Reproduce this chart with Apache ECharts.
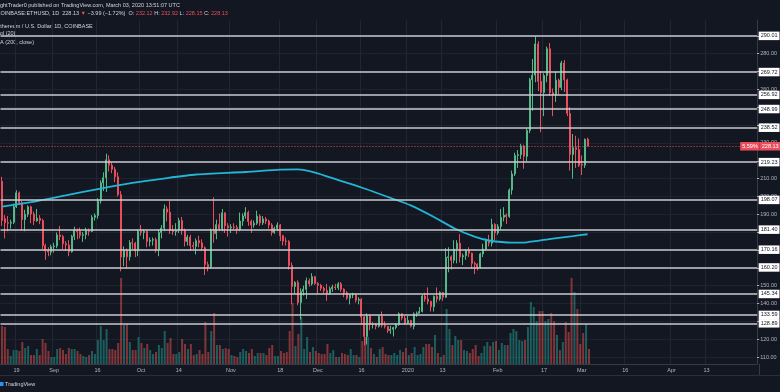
<!DOCTYPE html>
<html><head><meta charset="utf-8">
<script src="https://cdn.jsdelivr.net/npm/echarts@6/dist/echarts.min.js"></script>
<style>html,body{margin:0;padding:0;background:#131722;}#c{width:780px;height:392px;}</style>
</head><body><div id="c"></div>
<script>
// ---- data ----
const firstDay = '2019-08-14';
const lastAxisDay = '2020-04-30';
const opens = [
208.5,187.5,185.3,185.0,185.5,194.2,202.0,196.5,187.0,190.0,
194.2,190.2,186.3,187.8,186.5,172.5,169.5,168.8,171.8,172.2,
178.4,177.5,173.5,172.8,169.0,177.6,181.0,180.4,178.2,178.6,
180.8,180.4,188.3,189.3,197.5,207.6,210.5,220.5,217.5,215.2,
211.0,201.0,166.0,169.8,166.2,174.0,173.8,169.5,180.5,179.8,
180.4,174.8,175.5,175.8,170.2,179.8,182.2,193.0,191.2,181.0,
180.3,181.0,186.5,180.8,174.8,177.2,172.5,172.0,175.2,174.0,
171.2,161.8,160.5,180.8,179.2,184.2,181.8,190.8,183.5,182.4,
182.9,182.6,181.4,186.2,189.0,191.0,186.0,184.0,185.0,189.0,
185.2,187.4,186.2,184.0,179.8,182.0,184.0,178.0,175.0,174.8,
161.3,149.5,151.8,140.5,146.8,148.0,152.8,151.0,155.0,151.2,
150.2,148.5,147.3,145.8,148.3,149.2,148.8,151.0,148.0,146.0,
143.0,144.8,145.0,141.8,142.3,132.5,121.5,133.0,128.2,128.5,
127.2,132.8,127.8,127.2,124.8,125.5,126.5,128.2,134.2,131.8,
129.0,130.5,127.2,134.2,134.5,135.5,144.2,142.5,141.2,138.2,
144.0,142.5,146.2,143.5,165.8,166.2,164.2,170.5,173.8,166.2,
166.8,169.5,168.2,162.5,162.0,160.3,167.8,170.5,175.4,173.8,
184.3,179.6,183.2,188.3,189.5,188.8,203.6,212.6,223.0,223.4,
228.3,222.5,237.0,265.5,268.0,285.5,264.5,258.3,267.8,282.8,
258.2,256.8,265.2,261.0,274.8,265.3,246.5,223.5,227.3,226.3,
218.0,217.5,232.12];
const closes = [
186.5,185.3,185.0,185.5,194.2,202.0,196.5,187.0,190.0,194.2,
190.2,186.3,187.8,186.5,172.5,169.5,168.8,171.8,172.2,178.4,
177.5,173.5,172.8,169.0,177.6,181.0,180.4,178.2,178.6,180.8,
180.4,188.3,189.3,197.5,207.6,210.5,220.5,217.5,215.2,211.0,
201.0,166.0,169.8,166.2,174.0,173.8,169.5,180.5,179.8,180.4,
174.8,175.5,175.8,170.2,179.8,182.2,193.0,191.2,181.0,180.3,
181.0,186.5,180.8,174.8,177.2,172.5,172.0,175.2,174.0,171.2,
161.8,160.5,180.8,179.2,184.2,181.8,190.8,183.5,182.4,182.9,
182.6,181.4,186.2,189.0,191.0,186.0,184.0,185.0,189.0,185.2,
187.4,186.2,184.0,179.8,182.0,184.0,178.0,175.0,174.8,161.3,
149.5,151.8,140.5,146.8,148.0,152.8,151.0,155.0,151.2,150.2,
148.5,147.3,145.8,148.3,149.2,148.8,151.0,148.0,146.0,143.0,
144.8,145.0,141.8,142.3,132.5,121.5,133.0,128.2,128.5,127.2,
132.8,127.8,127.2,124.8,125.5,126.5,128.2,134.2,131.8,129.0,
130.5,127.2,134.2,134.5,135.5,144.2,142.5,141.2,138.2,144.0,
142.5,146.2,143.5,165.8,166.2,164.2,170.5,173.8,166.2,166.8,
169.5,168.2,162.5,162.0,160.3,167.8,170.5,175.4,173.8,184.3,
179.6,183.2,188.3,189.5,188.8,203.6,212.6,223.0,223.4,228.3,
222.5,237.0,265.5,268.0,285.5,264.5,258.3,267.8,282.8,258.2,
256.8,265.2,261.0,274.8,265.3,246.5,223.5,227.3,226.3,217.3,
217.5,232.0,228.13];
const highs = [
211.0,189.5,189.0,187.0,196.0,203.5,202.8,197.5,192.5,195.0,
194.8,191.5,193.0,189.5,187.5,173.5,171.5,173.0,174.0,179.8,
183.5,178.5,175.0,175.5,178.5,183.0,182.0,182.5,180.0,182.5,
182.0,189.5,190.5,199.0,209.0,213.5,224.0,223.0,219.0,216.5,
213.5,203.0,172.0,170.8,175.5,176.5,174.5,181.5,184.0,181.5,
181.0,177.0,177.0,177.0,181.5,184.0,195.5,194.5,197.5,184.0,
185.0,188.0,188.5,182.0,178.5,178.5,174.5,176.5,178.0,176.0,
172.0,163.5,182.0,199.5,187.0,190.5,193.0,191.0,185.0,184.5,
185.0,184.0,191.0,190.5,194.0,192.0,187.0,186.5,192.0,190.0,
189.0,188.5,187.0,185.0,183.0,185.5,184.5,178.5,177.0,175.5,
163.0,152.5,153.0,148.5,150.0,154.5,154.0,157.0,155.5,152.0,
151.0,149.5,151.0,149.5,150.5,151.0,152.0,152.0,148.5,147.0,
145.5,146.0,145.5,143.5,143.0,133.0,134.5,133.5,129.5,129.0,
133.5,135.5,130.0,127.5,127.5,127.0,129.0,135.0,134.5,133.0,
133.0,130.8,135.0,135.5,138.0,144.8,146.0,149.0,141.5,144.5,
149.0,146.8,146.5,171.0,171.5,167.0,175.5,175.5,179.0,168.0,
170.5,171.5,168.5,163.5,162.5,168.5,173.5,176.5,178.5,187.5,
185.0,184.5,193.0,194.0,190.5,204.5,214.5,224.5,226.0,229.5,
229.0,238.0,266.5,277.0,289.5,287.0,270.0,269.0,284.0,286.0,
260.5,270.0,266.0,276.0,276.5,266.0,250.0,235.0,234.0,232.5,
223.0,232.5,232.92];
const lows = [
183.5,176.5,180.5,182.0,184.5,193.5,195.5,181.0,180.5,188.5,
185.0,184.0,185.8,184.5,170.5,164.5,166.5,167.0,168.5,171.0,
175.5,170.5,169.5,166.5,168.5,175.5,176.0,176.5,174.5,176.0,
178.0,180.0,186.5,187.5,196.0,203.0,202.5,214.0,213.0,208.0,
200.0,158.0,161.0,159.5,164.0,170.5,166.0,166.5,178.0,176.0,
171.5,172.0,172.5,168.5,166.5,176.5,180.5,186.0,179.0,178.5,
178.0,179.5,178.5,172.0,172.5,169.5,170.5,167.5,171.5,169.5,
156.0,158.0,159.5,174.0,176.0,180.5,180.5,179.5,177.5,179.5,
181.5,179.0,180.5,183.5,187.5,183.5,179.5,182.5,184.0,183.5,
184.0,184.5,182.0,178.0,179.0,180.5,175.0,172.5,172.5,159.0,
139.5,145.5,139.0,131.0,144.5,142.5,149.5,150.0,150.5,145.5,
147.0,145.5,141.5,145.0,146.5,147.5,147.5,146.5,143.5,142.0,
139.5,143.0,140.5,139.5,128.0,116.5,117.0,125.0,126.0,125.5,
126.5,126.5,126.0,123.5,123.0,121.5,125.5,127.5,130.5,128.0,
128.5,126.5,125.5,132.5,134.5,135.0,141.0,139.5,135.5,135.5,
140.5,141.5,141.5,143.0,157.5,159.0,162.5,162.5,163.0,161.5,
164.5,166.0,159.5,156.5,158.5,159.5,166.0,169.5,172.0,172.0,
175.5,178.5,181.5,186.0,184.5,188.0,201.0,211.5,216.0,221.0,
215.5,219.5,235.5,248.0,264.0,259.0,236.0,245.0,264.0,256.5,
245.0,253.0,257.0,259.5,258.5,245.0,214.5,210.0,216.0,216.5,
212.0,216.0,228.13];
const volumes = [
494,481,195,104,182,182,169,286,208,234,
117,117,195,117,325,273,169,91,91,195,
208,182,130,208,195,195,169,130,104,91,
117,169,130,312,494,312,455,195,195,182,
273,1118,507,520,286,182,182,351,273,208,
260,182,130,156,247,208,429,273,338,130,
130,156,325,260,195,260,117,130,182,130,
546,156,429,663,247,247,195,208,195,117,
104,91,156,195,169,143,195,104,143,143,
143,117,208,247,104,104,169,143,156,429,
793,234,390,611,195,351,156,221,169,143,
130,130,260,143,182,91,91,143,130,117,
195,117,117,91,299,351,351,208,130,91,
195,221,130,117,117,143,117,182,156,208,
117,143,221,117,130,221,260,260,221,377,
143,91,117,715,455,247,364,312,312,182,
169,143,195,247,104,143,234,286,234,286,
299,182,273,247,247,403,455,429,312,299,
312,481,806,741,559,689,689,559,585,663,
559,377,182,286,546,416,1118,936,715,260,
403,520,195];
const maDates = ['2019-08-14','2019-08-24','2019-09-05','2019-09-17','2019-09-28','2019-10-08','2019-10-20','2019-11-06','2019-11-18','2019-11-24','2019-11-30','2019-12-08','2019-12-16','2019-12-26','2020-01-02','2020-01-10','2020-01-17','2020-01-24','2020-01-29','2020-02-06','2020-02-11','2020-02-20','2020-02-27','2020-03-03'];
const maValues = [194.3,196.8,200.6,204.4,207.6,209.9,212.3,213.7,215.0,215.2,213.4,209.2,205.0,199.2,195.0,188.5,182.2,177.5,175.3,174.1,174.3,176.4,177.8,178.8];
const levels = [290.01,269.72,256.92,248.99,238.52,219.23,198.07,181.40,170.16,160.20,145.34,133.59,128.89];
const lastPrice = 228.13;
const lastPct = '5.59%';
const priceTicks = [110,120,130,140,150,160,170,180,190,200,210,220,230,240,250,260,270,280,290];
const timeTickDates = ['2019-08-19','2019-09-01','2019-09-16','2019-10-01','2019-10-14','2019-11-01','2019-11-18','2019-12-01','2019-12-16','2020-01-01','2020-01-13','2020-02-01','2020-02-17','2020-03-01','2020-03-16','2020-04-01','2020-04-13'];
const timeTickLabels = ['19','Sep','16','Oct','14','Nov','18','Dec','16','2020','13','Feb','17','Mar','16','Apr','13'];
const priceMin = 106.08, priceMax = 298.9;
const volMax = 2236;

// ---- build ----
const days = [];
for (let t = Date.parse(firstDay + 'T00:00:00Z'); t <= Date.parse(lastAxisDay + 'T00:00:00Z'); t += 86400000) {
  days.push(new Date(t).toISOString().slice(0, 10));
}
const tickMap = {};
timeTickDates.forEach((d, i) => tickMap[d] = timeTickLabels[i]);
const isTick = (idx, val) => tickMap[val] !== undefined;

const UP = '#53b987', DOWN = '#eb4d5c';
const candleData = opens.map((o, i) => [o, closes[i], lows[i], highs[i]]);
const volData = volumes.map((v, i) => ({
  value: v,
  itemStyle: { color: closes[i] >= opens[i] ? 'rgba(38,166,154,0.5)' : 'rgba(239,83,80,0.5)' }
}));
const maData = maDates.map((d, i) => [d, maValues[i]]);
const FONT = 'Liberation Sans';

const levelLines = levels.map(v => ({
  yAxis: v,
  lineStyle: { color: '#c9cbd1', width: 1.6, type: 'solid' },
  label: {
    show: true, position: 'end', distance: 1.5, formatter: v.toFixed(2),
    backgroundColor: '#ffffff', color: '#131722', fontSize: 5.5, fontFamily: FONT,
    padding: [1.5, 2, 1, 2]
  }
}));
levelLines.push({
  yAxis: lastPrice,
  lineStyle: { color: '#eb4d5c', width: 1, type: [1, 2] },
  label: {
    show: true, position: 'end', distance: -17,
    formatter: '{p|' + lastPct + '}{v|' + lastPrice.toFixed(2) + '}',
    rich: {
      p: { backgroundColor: '#eb4d5c', color: '#ffffff', fontSize: 5.5, fontFamily: FONT, padding: [1.5, 2, 1, 2] },
      v: { backgroundColor: '#eb4d5c', color: '#ffffff', fontSize: 5.5, fontFamily: FONT, padding: [1.5, 2, 1, 2] }
    }
  }
});

const chart = echarts.init(document.getElementById('c'), null, { renderer: 'canvas' });
chart.setOption({
  backgroundColor: '#131722',
  animation: false,
  grid: [
    { left: 0.5, right: 21, top: 20, bottom: 28 },
    { left: 0.5, right: 21, top: 192, bottom: 28 }
  ],
  xAxis: [
    {
      type: 'category', gridIndex: 0, data: days, boundaryGap: true,
      axisLine: { show: true, lineStyle: { color: '#363a45' } },
      axisTick: { show: false },
      axisLabel: {
        interval: isTick, formatter: v => tickMap[v] || '', color: '#b2b5be',
        fontSize: 5.5, fontFamily: FONT, margin: 3
      },
      splitLine: { show: true, interval: isTick, lineStyle: { color: '#222632', width: 1 } }
    },
    { type: 'category', gridIndex: 1, data: days, boundaryGap: true, show: false }
  ],
  yAxis: [
    {
      type: 'value', gridIndex: 0, position: 'right', min: priceMin, max: priceMax,
      axisLine: { show: true, lineStyle: { color: '#363a45' } },
      axisTick: { show: true, customValues: priceTicks, length: 2, lineStyle: { color: '#b2b5be' } },
      axisLabel: { customValues: priceTicks, formatter: v => v.toFixed(2), color: '#b2b5be', fontSize: 5.5, fontFamily: FONT, margin: 3 },
      splitLine: { show: true, lineStyle: { color: '#1f2330' } }
    },
    { type: 'value', gridIndex: 1, min: 0, max: volMax, show: false, splitLine: { show: false } }
  ],
  series: [
    {
      type: 'bar', xAxisIndex: 1, yAxisIndex: 1, data: volData, barWidth: 2, z: 1, silent: true
    },
    {
      type: 'candlestick', xAxisIndex: 0, yAxisIndex: 0, data: candleData, barWidth: 1.5, z: 3,
      itemStyle: { color: UP, color0: DOWN, borderColor: UP, borderColor0: DOWN, borderWidth: 1 },
      markLine: { symbol: ['none', 'none'], silent: true, animation: false, precision: 2, data: levelLines }
    },
    {
      type: 'line', xAxisIndex: 0, yAxisIndex: 0, data: maData, showSymbol: false, smooth: 0.25, z: 4,
      lineStyle: { color: '#22b5d6', width: 1.8 }
    }
  ],
  graphic: [
    { type: 'text', x: 0, y: 5, style: { text: 'ghtTrader0 published on TradingView.com, March 03, 2020 13:51:07 UTC', fill: '#d1d4dc', font: '5.5px "Liberation Sans"', verticalAlign: 'middle' } },
    { type: 'text', x: -3.5, y: 13.5, style: {
      text: '{w|COINBASE:ETHUSD, 1D  228.13 }{r|▼}{w| −3.99 (−1.72%)  O: }{r|232.12}{w| H: }{r|232.92}{w| L: }{r|228.15}{w| C: }{r|228.13}',
      rich: { w: { fill: '#d1d4dc', font: '5.5px "Liberation Sans"' }, r: { fill: '#eb4d5c', font: '5.5px "Liberation Sans"' } },
      font: '5.5px "Liberation Sans"', verticalAlign: 'middle' } },
    { type: 'text', x: -3.5, y: 26, style: { text: 'Ethereum / U.S. Dollar, 1D, COINBASE', fill: '#d1d4dc', font: '5.5px "Liberation Sans"', verticalAlign: 'middle' } },
    { type: 'text', x: -3.5, y: 33.5, style: { text: 'Vol (20)', fill: '#d1d4dc', font: '5.5px "Liberation Sans"', verticalAlign: 'middle' } },
    { type: 'text', x: -4.5, y: 42, style: { text: 'MA (200, close)', fill: '#d1d4dc', font: '5.5px "Liberation Sans"', verticalAlign: 'middle' } },
    { type: 'line', shape: { x1: 0, y1: 375.5, x2: 780, y2: 375.5 }, style: { stroke: '#2a2e39', lineWidth: 1 } },
    { type: 'line', shape: { x1: 759.5, y1: 364, x2: 759.5, y2: 375 }, style: { stroke: '#363a45', lineWidth: 1 } },
    { type: 'rect', shape: { x: 0, y: 382, width: 3.5, height: 4 }, style: { fill: '#2196f3' } },
    { type: 'text', x: 5, y: 384, style: { text: 'TradingView', fill: '#d1d4dc', font: '5.5px "Liberation Sans"', verticalAlign: 'middle' } }
  ]
});
</script>
</body></html>
